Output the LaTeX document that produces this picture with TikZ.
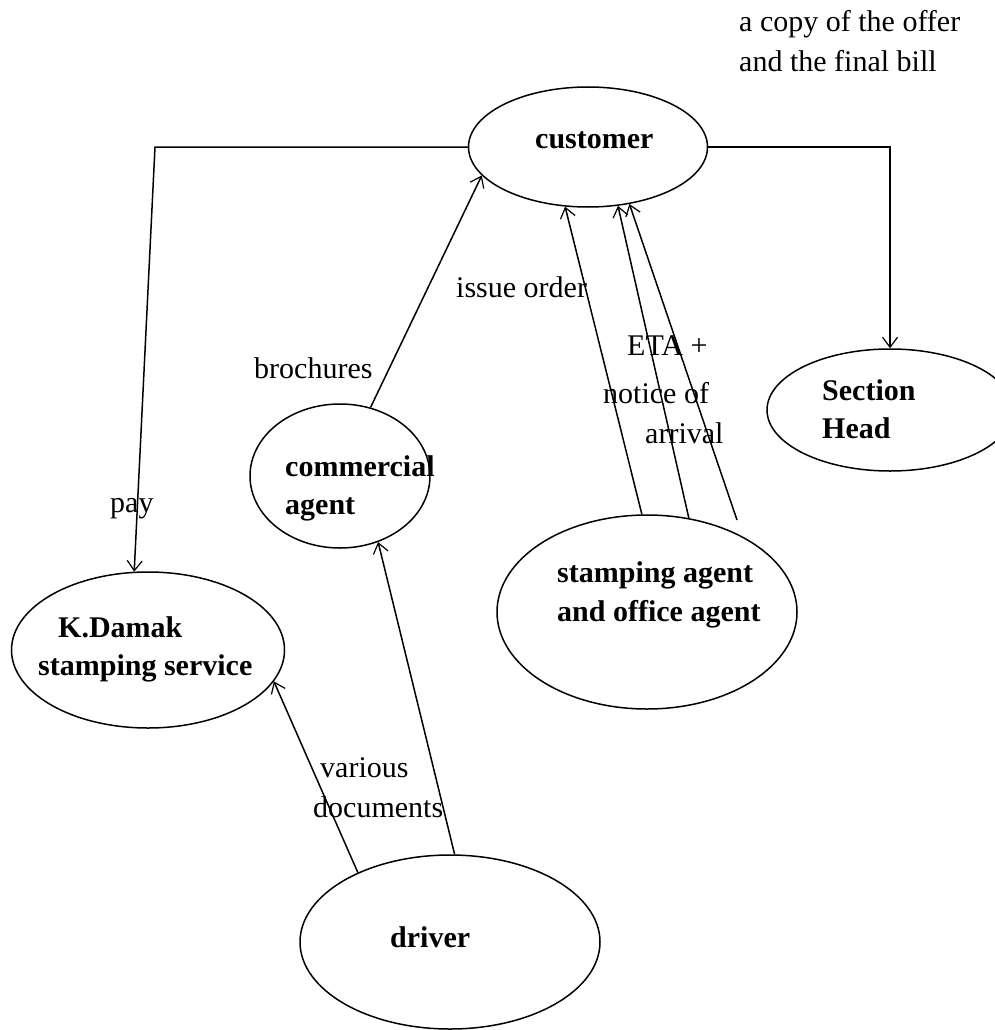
\documentclass[tikz,border=0pt]{standalone}
\usepackage{fontspec}
\setmainfont{Liberation Serif}
\usetikzlibrary{shapes.geometric,arrows.meta}

\tikzset{
  oval/.style={draw, ellipse, line width=1.5pt, inner sep=0pt},
  txt/.style={anchor=base west, inner sep=0pt, font=\fontsize{30}{36}\selectfont},
  btxt/.style={txt, font=\fontsize{30}{36}\selectfont\bfseries},
  flow/.style={line width=1.5pt, -{Straight Barb[length=10pt,width=15pt,line width=1.2pt]}}
}

\begin{document}
\begin{tikzpicture}[x=1pt,y=-1pt]
\useasboundingbox (0,0) rectangle (995,1030);

\node[oval, minimum width=239pt, minimum height=120pt] (cust) at (588,147) {};
\node[oval, minimum width=246pt, minimum height=122pt] (sect) at (890,410) {};
\node[oval, minimum width=180pt, minimum height=144pt] (com) at (340,476) {};
\node[oval, minimum width=300pt, minimum height=194pt] (sa) at (647,612) {};
\node[oval, minimum width=273pt, minimum height=156pt] (kd) at (148,650) {};
\node[oval, minimum width=300pt, minimum height=174pt] (drv) at (450,942) {};

\node[btxt] (custtxt) at (535,148) {customer};
\node[btxt] (secttxt1) at (822,400) {Section};
\node[btxt] (secttxt2) at (822,438) {Head};
\node[btxt] (comtxt1) at (285,476) {commercial};
\node[btxt] (comtxt2) at (285,514) {agent};
\node[btxt] (satxt1) at (557,582) {stamping agent};
\node[btxt] (satxt2) at (557,621) {and office agent};
\node[btxt] (kdtxt1) at (58,637) {K.Damak};
\node[btxt] (kdtxt2) at (38,675) {stamping service};
\node[btxt] (drvtxt) at (390,947) {driver};

\node[txt] (offer1) at (739,32) {a copy of the offer};
\node[txt] (offer2) at (739,72) {and the final bill};
\node[txt] (issue) at (456,297) {issue order};
\node[txt] (eta1) at (627,355) {ETA +};
\node[txt] (eta2) at (603,403) {notice of};
\node[txt] (eta3) at (645,443) {arrival};
\node[txt] (broch) at (254,378) {brochures};
\node[txt] (pay) at (110,512) {pay};
\node[txt] (docs1) at (320,777) {various};
\node[txt] (docs2) at (313,817) {documents};

\coordinate (payturn) at (155,147);
\coordinate (etaend) at (737,520);

\draw[flow] (cust.west) -- (payturn) -- (kd.100);
\draw[flow] (cust.east) -| (sect.north);
\draw[flow] (com.66) -- (cust.195);
\draw[flow] (sa.93) -- (cust.249);
\draw[flow] (sa.66) -- (cust.297);
\draw[flow] (etaend) -- (cust.306);
\draw[flow] (drv.143) -- (kd.346);
\draw[flow] (drv.87) -- (com.300);
\end{tikzpicture}
\end{document}
